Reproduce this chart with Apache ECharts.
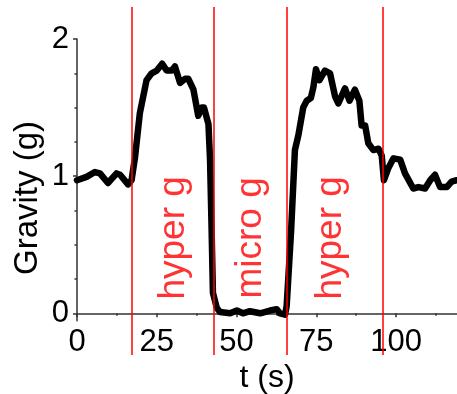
<!DOCTYPE html>
<html>
<head>
<meta charset="utf-8">
<script src="https://cdn.jsdelivr.net/npm/echarts@6/dist/echarts.min.js"></script>
<style>html,body{margin:0;padding:0;background:#fff;}#c{width:457px;height:394px;}</style>
</head>
<body>
<div id="c"></div>
<script>
// time (s)
const tValues = [0.0,3.0,5.6,7.2,9.7,12.4,13.5,16.0,17.1,18.2,19.7,21.8,23.4,25.0,26.7,28.1,29.7,30.7,32.3,33.9,34.9,36.5,38.0,39.1,39.8,41.2,41.7,42.2,42.6,43.8,44.8,48.0,50.1,52.0,54.2,57.4,60.5,62.6,63.6,65.2,65.7,67.1,68.3,69.4,70.9,72.0,73.3,74.1,74.9,76.0,77.7,79.3,80.9,81.9,84.0,85.4,87.1,88.5,89.2,90.3,91.3,92.9,94.5,95.5,96.2,97.6,99.2,101.3,102.8,105.4,107.0,109.1,110.7,112.2,113.8,115.9,117.4,119.0];
// gravity (g)
const gValues = [0.97,0.995,1.03,1.02,0.95,1.02,1.01,0.94,0.97,1.14,1.46,1.70,1.75,1.77,1.82,1.77,1.77,1.80,1.68,1.71,1.71,1.63,1.44,1.50,1.50,1.38,1.12,0.6,0.15,0.04,0.01,0.0,0.02,0.0,0.015,0.0,0.02,0.03,0.0,-0.01,0.05,0.6,1.19,1.30,1.50,1.55,1.57,1.65,1.78,1.70,1.77,1.75,1.58,1.53,1.64,1.55,1.63,1.55,1.37,1.37,1.24,1.19,1.20,1.15,0.97,1.06,1.13,1.12,1.02,0.91,0.92,0.91,0.97,1.01,0.92,0.92,0.96,0.97];
// phase boundaries (s)
const phaseBounds = [17.3, 43.0, 65.7, 95.9];
// phase labels and where they sit
const phaseNames = ['hyper g', 'micro g', 'hyper g'];
const phaseLabelT = [30.4, 54.6, 79.4];
const phaseLabelG = [0.55, 0.55, 0.55];
// ticks
const xMajorTicks = [0, 25, 50, 75, 100];
const xMinorTicks = [12.5, 37.5, 62.5, 87.5, 112.5];
const yMajorTicks = [0, 1, 2];
const yMinorTicks = [0.25, 0.5, 0.75, 1.25, 1.5, 1.75];
const xTitle = 't (s)';
const yTitle = 'Gravity (g)';

const X_MIN = 0, X_MAX = 119.1, Y_MIN = -0.054, Y_MAX = 2;
const FONT = 'Liberation Sans, Arial, sans-serif';
const AX = '#333';

const chart = echarts.init(document.getElementById('c'), null, {renderer: 'canvas'});
const lineData = tValues.map((t, i) => [t, gValues[i]]);
const labelData = phaseNames.map((n, i) => ({value: [phaseLabelT[i], phaseLabelG[i]], name: n}));

chart.setOption({
  animation: false,
  backgroundColor: '#fff',
  grid: [
    {left: 77, right: 0, top: 39, bottom: 73.3, containLabel: false, outerBoundsMode: 'none'},
    {left: 77, right: 0, top: 7, bottom: 39, containLabel: false, outerBoundsMode: 'none'}
  ],
  xAxis: [
    {gridIndex: 0, type: 'value', min: X_MIN, max: X_MAX, position: 'bottom',
     axisLine: {show: true, lineStyle: {color: AX, width: 1.5}},
     axisTick: {show: true, customValues: xMajorTicks, length: 4, lineStyle: {color: AX, width: 1.5}},
     axisLabel: {show: true, customValues: xMajorTicks, fontSize: 31, color: '#000', fontFamily: FONT, margin: 6},
     splitLine: {show: false},
     name: xTitle, nameLocation: 'middle', nameGap: 26,
     nameTextStyle: {fontSize: 32, color: '#000', fontFamily: FONT}},
    {gridIndex: 0, type: 'value', min: X_MIN, max: X_MAX, position: 'bottom',
     axisLine: {show: false},
     axisTick: {show: true, customValues: xMinorTicks, length: 2.5, lineStyle: {color: AX, width: 1.5}},
     axisLabel: {show: false}, splitLine: {show: false}},
    {gridIndex: 1, type: 'value', min: X_MIN, max: X_MAX, show: false}
  ],
  yAxis: [
    {gridIndex: 0, type: 'value', min: Y_MIN, max: Y_MAX, position: 'left',
     axisLine: {show: true, lineStyle: {color: AX, width: 1.5}},
     axisTick: {show: true, customValues: yMajorTicks, length: 4, lineStyle: {color: AX, width: 1.5}},
     axisLabel: {show: true, customValues: yMajorTicks, fontSize: 31, color: '#000', fontFamily: FONT, margin: 8},
     splitLine: {show: false}},
    {gridIndex: 0, type: 'value', min: Y_MIN, max: Y_MAX, position: 'left',
     axisLine: {show: false},
     axisTick: {show: true, customValues: yMinorTicks, length: 2.5, lineStyle: {color: AX, width: 1.5}},
     axisLabel: {show: false}, splitLine: {show: false}},
    {gridIndex: 1, type: 'value', min: 0, max: 1, show: false}
  ],
  graphic: [
    {type: 'text', x: 28, y: 198, rotation: Math.PI / 2,
     style: {text: yTitle, fontSize: 33, fill: '#000', fontFamily: FONT, textAlign: 'center', textVerticalAlign: 'middle'}}
  ],
  series: [
    {type: 'line', xAxisIndex: 0, yAxisIndex: 0, data: lineData, showSymbol: false, symbol: 'none',
     lineStyle: {color: '#000', width: 6.5, join: 'round', cap: 'round'}, z: 3, silent: true},
    {type: 'line', xAxisIndex: 2, yAxisIndex: 2, data: [], z: 5,
     markLine: {symbol: 'none', silent: true, label: {show: false},
       lineStyle: {color: '#ff0000', width: 1.5, type: 'solid'},
       data: phaseBounds.map(v => ({xAxis: v}))}},
    {type: 'scatter', xAxisIndex: 0, yAxisIndex: 0, data: labelData, symbolSize: 0, z: 4, silent: true,
     label: {show: true, formatter: p => p.name, rotate: 90, position: 'inside', align: 'center', verticalAlign: 'middle',
       fontSize: 37, color: '#ff0000', fontFamily: FONT}}
  ]
});
</script>
</body>
</html>
